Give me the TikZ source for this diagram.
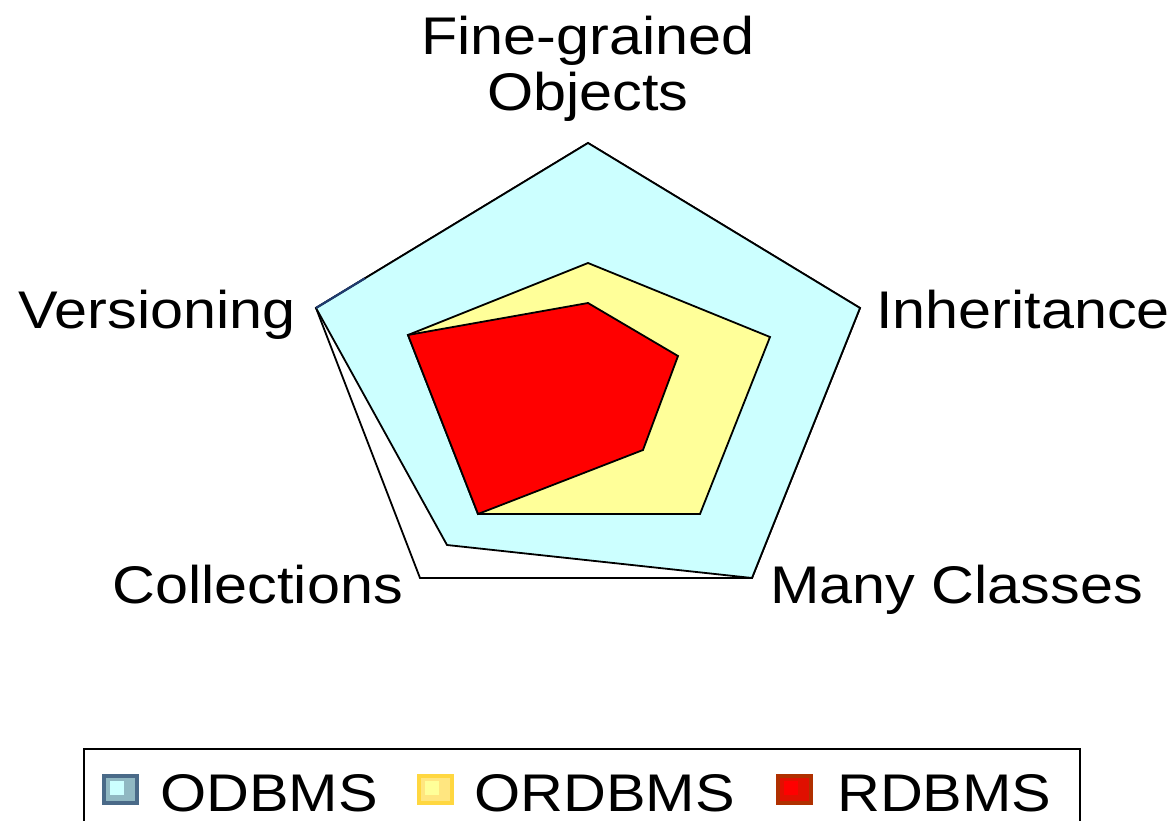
\documentclass[tikz,border=0pt]{standalone}
\usepackage{fontspec}
\setmainfont{Liberation Sans}[FakeStretch=1.12]
\usetikzlibrary{calc}
\definecolor{odbfill}{HTML}{CCFFFF}
\definecolor{ordbfill}{HTML}{FFFF99}
\definecolor{rdbfill}{HTML}{FF0000}
\definecolor{odbline}{HTML}{1F3B6E}
\definecolor{odbkeyA}{HTML}{4A6A88}
\definecolor{odbkeyB}{HTML}{90B8C2}
\definecolor{ordbkeyA}{HTML}{FFD740}
\definecolor{ordbkeyB}{HTML}{FFE680}
\definecolor{rdbkeyA}{HTML}{B03000}
\definecolor{rdbkeyB}{HTML}{E01000}
\tikzset{
  axislabel/.style={font=\fontsize{53}{56}\selectfont, inner sep=0pt},
  series/.style={draw=black, line width=1.8pt, line join=miter}
}
\begin{document}
\begin{tikzpicture}[x=1pt,y=-1pt]
                \useasboundingbox (0,0) rectangle (1171,821);
                % axis frame
                \coordinate (top) at (588,143);
                \coordinate (right) at (860,308);
                \coordinate (lowright) at (752,578);
                \coordinate (lowleft) at (420,578);
                \coordinate (left) at (316,308);
                \draw[series, fill=white] (top) -- (right) -- (lowright) -- (lowleft) -- (left) -- cycle;
                % ODBMS
                \draw[series, fill=odbfill] (top) -- (right) -- (lowright) -- (447,545) -- (left) -- cycle;
                \draw[odbline, line width=2.2pt] (left) -- ($(left)!0.18!(top)$);
                % ORDBMS
                \draw[series, fill=ordbfill] (588,263) -- (770,337) -- (700,514) -- (478,514) -- (408,335) -- cycle;
                % RDBMS
                \draw[series, fill=rdbfill] (588,303) -- (678,356) -- (643,450) -- (478,514) -- (408,335) -- cycle;
                % axis labels
                \node[axislabel, anchor=base] (finegrained) at (588,55) {Fine-grained};
                \node[axislabel, anchor=base] (objects) at (588,111) {Objects};
                \node[axislabel, anchor=base east] (versioning) at (296,328) {Versioning};
                \node[axislabel, anchor=base west] (inheritance) at (876,328) {Inheritance};
                \node[axislabel, anchor=base east] (collections) at (403,603) {Collections};
                \node[axislabel, anchor=base west] (manyclasses) at (770,603) {Many Classes};
                % legend
                \draw[line width=1.6pt] (84,749) rectangle (1080,850);
                \foreach \kx/\outer/\mid/\inner in {102/odbkeyA/odbkeyB/odbfill,417/ordbkeyA/ordbkeyB/ordbfill,776/rdbkeyA/rdbkeyB/rdbfill}
                {
                    \fill[\outer] (\kx,774) rectangle (\kx+37,805);
                    \fill[\mid] (\kx+4,778) rectangle (\kx+33,801);
                    \fill[\inner] (\kx+8,781) rectangle (\kx+22,795);
                }
                \node[axislabel, anchor=base west] (odbms) at (160,811) {ODBMS};
                \node[axislabel, anchor=base west] (ordbms) at (474,811) {ORDBMS};
                \node[axislabel, anchor=base west] (rdbms) at (837,811) {RDBMS};
            \end{tikzpicture}
\end{document}
